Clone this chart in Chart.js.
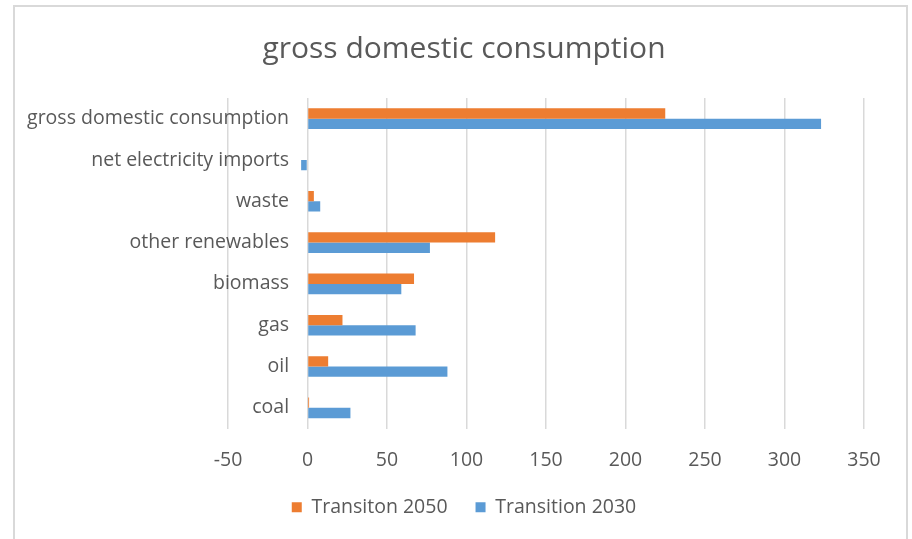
<!DOCTYPE html>
<html>
<head>
<meta charset="utf-8">
<script src="https://cdn.jsdelivr.net/npm/chart.js@4.4.1/dist/chart.umd.min.js"></script>
<style>
  html, body { margin: 0; padding: 0; background: #ffffff; }
  #wrap { position: relative; width: 912px; height: 539px; overflow: hidden; }
  #frame { position: absolute; left: 13px; top: 5px; width: 895px; height: 560px; border: 2px solid #d9d9d9; box-sizing: border-box; pointer-events: none; }
  canvas { position: absolute; left: 0; top: 0; }
</style>
</head>
<body>
<div id="wrap">
  <canvas id="c" width="912" height="539"></canvas>
  <div id="frame"></div>
</div>
<script>
const categories = ["gross domestic consumption", "net electricity imports", "waste", "other renewables", "biomass", "gas", "oil", "coal"];
const transition2050 = [225, 0, 4, 118, 67, 22, 13, 1];
const transition2030 = [323, -4, 8, 77, 59, 68, 88, 27];
const xTicks = [-50, 0, 50, 100, 150, 200, 250, 300, 350];

const FONT = "'Open Sans', sans-serif";
const TXT = "#595959";
const SMALL = 19.5;

new Chart(document.getElementById('c'), {
  type: 'bar',
  data: {
    labels: categories,
    datasets: [
      { label: 'Transiton 2050', data: transition2050, backgroundColor: '#ED7D31', categoryPercentage: 0.5, barPercentage: 1.0, yAxisID: 'y' },
      { label: 'Transition 2030', data: transition2030, backgroundColor: '#5B9BD5', categoryPercentage: 0.5, barPercentage: 1.0, yAxisID: 'y' }
    ]
  },
  options: {
    indexAxis: 'y',
    responsive: false,
    animation: false,
    layout: { padding: { left: 16, right: 0, top: 0, bottom: 12 } },
    plugins: {
      title: {
        display: true,
        text: 'gross domestic consumption',
        color: TXT,
        font: { family: FONT, size: 30, weight: 'normal' },
        padding: { top: 31, bottom: 31 }
      },
      legend: {
        position: 'bottom',
        labels: {
          color: TXT,
          font: { family: FONT, size: SMALL },
          boxWidth: 10,
          boxHeight: 10,
          padding: 28
        }
      },
      tooltip: { enabled: false }
    },
    scales: {
      x: {
        type: 'linear',
        min: xTicks[0],
        max: xTicks[xTicks.length - 1],
        afterBuildTicks: (s) => { s.ticks = xTicks.map(v => ({ value: v })); },
        grid: { color: '#d9d9d9', lineWidth: 1.5, drawTicks: false },
        border: { display: false },
        ticks: { color: TXT, font: { family: FONT, size: SMALL }, padding: 20 },
        afterFit: (s) => { s.height = 41; }
      },
      y: {
        type: 'category',
        position: { x: -11.6 },
        grid: { display: false, drawTicks: false },
        border: { display: false },
        ticks: { color: TXT, font: { family: FONT, size: SMALL }, padding: 0 }
      },
      yl: {
        type: 'linear',
        position: 'left',
        display: true,
        grid: { display: false, drawTicks: false },
        border: { display: false },
        ticks: { display: false },
        afterFit: (s) => { s.width = 228 - 16; }
      },
      y2: {
        type: 'linear',
        position: 'right',
        display: true,
        grid: { display: false, drawTicks: false },
        border: { display: false },
        ticks: { display: false },
        afterFit: (s) => { s.width = 912 - 864; }
      }
    }
  }
});
</script>
</body>
</html>
